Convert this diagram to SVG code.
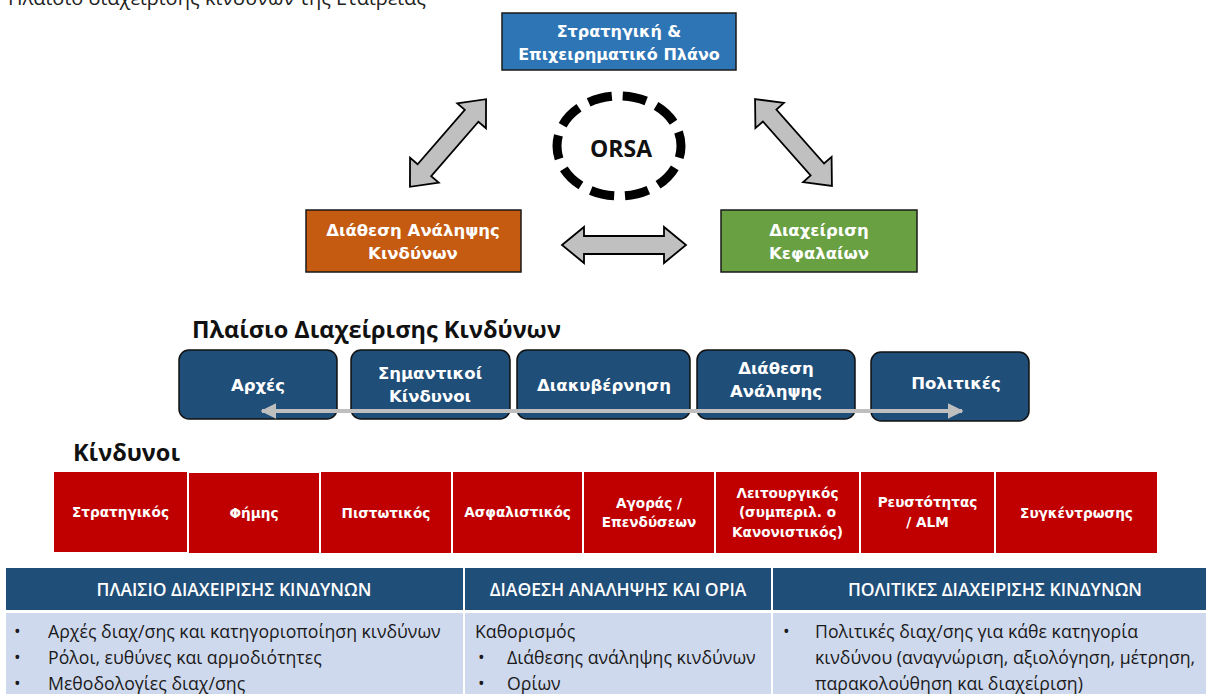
<svg xmlns="http://www.w3.org/2000/svg" width="1206" height="694" viewBox="0 0 1206 694">
<defs>
<style>
.bx{stroke:#1a1a1a;stroke-width:1.5}
.wt{fill:#fff;font-family:"DejaVu Sans",sans-serif;font-weight:bold;text-anchor:middle}
.t16{font-size:16px}
.t165{font-size:16.5px}
.t13{font-size:13.6px}
.rb{fill:#1F4E79;stroke:#111;stroke-width:1.5}
.red{fill:#C00000}
.arr{fill:#C0C0C0;stroke:#000;stroke-width:1.8;stroke-linejoin:miter}
.hd{font-family:"Open Sans",sans-serif;font-weight:bold;font-size:23.5px;fill:#111}
.th{fill:#1F4E79}
.tb{fill:#CFD9EE}
.tht{fill:#fff;font-family:"Open Sans",sans-serif;font-weight:600;font-size:17.5px;text-anchor:middle}
.tt{fill:#1a1a1a;font-family:"Open Sans",sans-serif;font-size:17.7px}
</style>
<marker id="gh" viewBox="0 0 10 10" refX="9" refY="5" markerWidth="4" markerHeight="4" orient="auto-start-reverse" markerUnits="strokeWidth">
<path d="M0,0 L10,5 L0,10 Z" fill="#BFBFBF"/>
</marker>
</defs>

<text x="8" y="5" font-family="Open Sans, sans-serif" font-size="20" fill="#222">Πλαίσιο διαχείρισης κινδύνων της Εταιρείας</text>

<g id="strategy">
<rect class="bx" x="502" y="13" width="234" height="57" fill="#2E75B6"/>
<text class="wt t16" x="619" y="37">Στρατηγική &amp;</text>
<text class="wt t16" x="619" y="60">Επιχειρηματικό Πλάνο</text>
</g>

<g id="orsa">
<ellipse cx="619" cy="146" rx="62" ry="50" fill="none" stroke="#000" stroke-width="9" stroke-dasharray="24 11" stroke-dashoffset="12"/>
<text x="621" y="157" text-anchor="middle" font-family="Open Sans, sans-serif" font-weight="bold" font-size="23" fill="#111">ORSA</text>
</g>

<g id="risk-appetite">
<rect class="bx" x="306" y="210" width="215" height="62" fill="#C55A11"/>
<text class="wt t165" x="413" y="236">Διάθεση Ανάληψης</text>
<text class="wt t165" x="413" y="259">Κινδύνων</text>
</g>

<g id="capital">
<rect class="bx" x="721" y="210" width="196" height="62" fill="#68A042"/>
<text class="wt t165" x="819" y="236">Διαχείριση</text>
<text class="wt t165" x="819" y="259">Κεφαλαίων</text>
</g>

<g id="connectors">
<polygon class="arr" transform="translate(448,143) rotate(-49)" points="-58,0 -36,-19 -36,-9 36,-9 36,-19 58,0 36,19 36,9 -36,9 -36,19"/>
<polygon class="arr" transform="translate(793.5,142.5) rotate(48.5)" points="-58,0 -36,-19 -36,-9 36,-9 36,-19 58,0 36,19 36,9 -36,9 -36,19"/>
<polygon class="arr" transform="translate(624,245)" points="-62,0 -40,-18 -40,-9 40,-9 40,-18 62,0 40,18 40,9 -40,9 -40,18"/>
</g>

<text class="hd" x="192" y="338">Πλαίσιο Διαχείρισης Κινδύνων</text>

<g id="fw-principles">
<rect class="rb" x="179" y="350" width="158" height="69" rx="10"/>
<text class="wt t165" x="258" y="391">Αρχές</text>
</g>
<g id="fw-key-risks">
<rect class="rb" x="351" y="350" width="159" height="69" rx="10"/>
<text class="wt t165" x="430" y="379">Σημαντικοί</text>
<text class="wt t165" x="430" y="402">Κίνδυνοι</text>
</g>
<g id="fw-governance">
<rect class="rb" x="517" y="350" width="173" height="69" rx="10"/>
<text class="wt t165" x="604" y="391">Διακυβέρνηση</text>
</g>
<g id="fw-appetite">
<rect class="rb" x="697" y="350" width="158" height="69" rx="10"/>
<text class="wt t165" x="776" y="374">Διάθεση</text>
<text class="wt t165" x="776" y="397">Ανάληψης</text>
</g>
<g id="fw-policies">
<rect class="rb" x="871" y="352" width="158" height="69" rx="10"/>
<text class="wt t165" x="956" y="389">Πολιτικές</text>
</g>

<g id="fw-line">
<line x1="262" y1="411" x2="962" y2="411" stroke="#BFBFBF" stroke-width="4" marker-start="url(#gh)" marker-end="url(#gh)"/>
</g>

<text class="hd" x="73" y="461">Κίνδυνοι</text>

<g id="risks">
<rect class="red" x="54" y="472" width="133" height="80"/>
<text class="wt t13" x="120.5" y="517">Στρατηγικός</text>
<rect class="red" x="189" y="473" width="130" height="80"/>
<text class="wt t13" x="254" y="518">Φήμης</text>
<rect class="red" x="321" y="472" width="130" height="81"/>
<text class="wt t13" x="386" y="518">Πιστωτικός</text>
<rect class="red" x="453" y="472" width="129" height="81"/>
<text class="wt t13" x="517.5" y="517">Ασφαλιστικός</text>
<rect class="red" x="584" y="472" width="130" height="81"/>
<text class="wt t13" x="649" y="508">Αγοράς /</text>
<text class="wt t13" x="649" y="527">Επενδύσεων</text>
<rect class="red" x="716" y="472" width="143" height="81"/>
<text class="wt t13" x="787.5" y="498">Λειτουργικός</text>
<text class="wt t13" x="787.5" y="517">(συμπεριλ. ο</text>
<text class="wt t13" x="787.5" y="537">Κανονιστικός)</text>
<rect class="red" x="861" y="472" width="133" height="81"/>
<text class="wt t13" x="927.5" y="507">Ρευστότητας</text>
<text class="wt t13" x="927.5" y="527">/ ALM</text>
<rect class="red" x="996" y="472" width="161" height="81"/>
<text class="wt t13" x="1076.5" y="518">Συγκέντρωσης</text>
</g>

<g id="table">
<rect class="th" x="6" y="568" width="457" height="42"/>
<rect class="th" x="465" y="568" width="306" height="42"/>
<rect class="th" x="773" y="568" width="433" height="42"/>
<text class="tht" x="234" y="596">ΠΛΑΙΣΙΟ ΔΙΑΧΕΙΡΙΣΗΣ ΚΙΝΔΥΝΩΝ</text>
<text class="tht" x="618" y="596">ΔΙΑΘΕΣΗ ΑΝΑΛΗΨΗΣ ΚΑΙ ΟΡΙΑ</text>
<text class="tht" x="995" y="596">ΠΟΛΙΤΙΚΕΣ ΔΙΑΧΕΙΡΙΣΗΣ ΚΙΝΔΥΝΩΝ</text>
<rect class="tb" x="6" y="613" width="457" height="81"/>
<rect class="tb" x="465" y="613" width="306" height="81"/>
<rect class="tb" x="773" y="613" width="433" height="81"/>
<text class="tt" x="14" y="638">•</text>
<text class="tt" x="48" y="638">Αρχές διαχ/σης και κατηγοριοποίηση κινδύνων</text>
<text class="tt" x="14" y="664">•</text>
<text class="tt" x="48" y="664">Ρόλοι, ευθύνες και αρμοδιότητες</text>
<text class="tt" x="14" y="690">•</text>
<text class="tt" x="48" y="690">Μεθοδολογίες διαχ/σης</text>
<text class="tt" x="475" y="638">Καθορισμός</text>
<text class="tt" x="478" y="664">•</text>
<text class="tt" x="507" y="664">Διάθεσης ανάληψης κινδύνων</text>
<text class="tt" x="478" y="690">•</text>
<text class="tt" x="507" y="690">Ορίων</text>
<text class="tt" x="783" y="638">•</text>
<text class="tt" x="815" y="638">Πολιτικές διαχ/σης για κάθε κατηγορία</text>
<text class="tt" x="815" y="664">κινδύνου (αναγνώριση, αξιολόγηση, μέτρηση,</text>
<text class="tt" x="815" y="690">παρακολούθηση και διαχείριση)</text>
</g>
</svg>
